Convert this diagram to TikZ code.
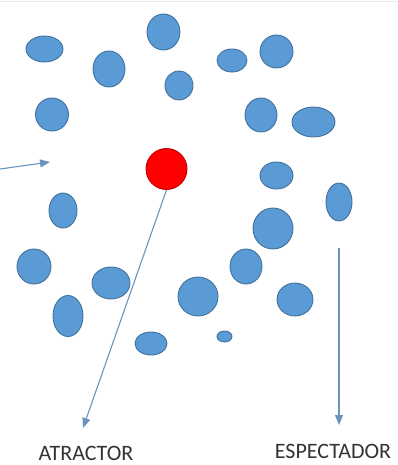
\documentclass[tikz,border=0pt]{standalone}
\usepackage{fontspec}
\setmainfont{Carlito}
\usetikzlibrary{shapes.geometric,arrows.meta}
\definecolor{blobfill}{HTML}{5B9BD5}
\definecolor{blobline}{HTML}{41719C}
\definecolor{arrowc}{HTML}{6A94BE}
\definecolor{redline}{HTML}{C00000}
\tikzset{
  blob/.style={ellipse, draw=blobline, fill=blobfill, line width=0.9pt, inner sep=0pt},
  attr/.style={circle, draw=redline, fill=red, line width=0.9pt, inner sep=0pt, minimum size=41pt},
  conn/.style={draw=arrowc, line width=1.1pt, -{Triangle[length=10pt,width=8pt]}},
  lbl/.style={font=\fontsize{22}{26}\selectfont, text=black!80, inner sep=0pt}
}
\begin{document}
\begin{tikzpicture}[x=1pt,y=-1pt]
\useasboundingbox (0,0) rectangle (398,465);
\draw[black!8, line width=0.6pt] (0,1.5) -- (398,1.5);
% blobs: (center) width height
\node[blob, minimum width=37pt, minimum height=26pt] (b1) at (44.5,49) {};
\node[blob, minimum width=32pt, minimum height=36pt] (b2) at (109,69) {};
\node[blob, minimum width=33pt, minimum height=36pt] (b3) at (163.5,32) {};
\node[blob, minimum width=28pt, minimum height=29pt] (b4) at (179,85.5) {};
\node[blob, minimum width=33pt, minimum height=33pt] (b5) at (52,114.5) {};
\node[blob, minimum width=30pt, minimum height=23pt] (b6) at (232,60.5) {};
\node[blob, minimum width=33pt, minimum height=33pt] (b7) at (276.5,51.5) {};
\node[blob, minimum width=32pt, minimum height=34pt] (b8) at (261,115) {};
\node[blob, minimum width=43pt, minimum height=30pt] (b9) at (313.5,122) {};
\node[blob, minimum width=28pt, minimum height=35pt] (b10) at (63,210.5) {};
\node[blob, minimum width=34pt, minimum height=35pt] (b11) at (34,266.5) {};
\node[blob, minimum width=38pt, minimum height=32pt] (b12) at (111,283) {};
\node[blob, minimum width=33pt, minimum height=27pt] (b13) at (276.5,175.5) {};
\node[blob, minimum width=26pt, minimum height=38pt] (b14) at (339,202) {};
\node[blob, minimum width=40pt, minimum height=41pt] (b15) at (273,228.5) {};
\node[blob, minimum width=32pt, minimum height=35pt] (b16) at (246,266.5) {};
\node[blob, minimum width=36pt, minimum height=33pt] (b17) at (295,299.5) {};
\node[blob, minimum width=40pt, minimum height=39pt] (b18) at (198,296.5) {};
\node[blob, minimum width=30pt, minimum height=41pt] (b19) at (68,316) {};
\node[blob, minimum width=32pt, minimum height=23pt] (b20) at (151,343.5) {};
\node[blob, minimum width=15pt, minimum height=11pt] (b21) at (224.5,336.5) {};
% attractor
\node[attr] (att) at (166.5,169) {};
% arrows
\coordinate (inS) at (0,169);
\coordinate (inE) at (50,162);
\coordinate (attE) at (83,428);
\coordinate (spS) at (339,248);
\coordinate (spE) at (339,425);
\draw[conn] (inS) -- (inE);
\draw[conn] (att.south) -- (attE);
\draw[conn] (spS) -- (spE);
% labels
\node[lbl] (latt) at (86,453.5) {ATRACTOR};
\node[lbl] (lspe) at (333,451) {ESPECTADOR};
\end{tikzpicture}
\end{document}
